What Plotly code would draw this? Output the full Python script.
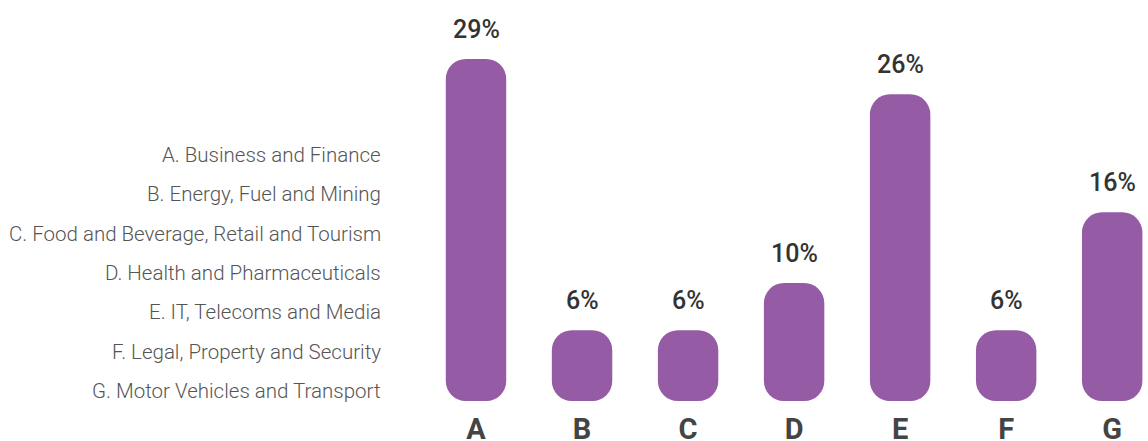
import plotly.graph_objects as go

# Sector shares (%)
letters = ["A", "B", "C", "D", "E", "F", "G"]
sectors = [
    "A. Business and Finance",
    "B. Energy, Fuel and Mining",
    "C. Food and Beverage, Retail and Tourism",
    "D. Health and Pharmaceuticals",
    "E. IT, Telecoms and Media",
    "F. Legal, Property and Security",
    "G. Motor Vehicles and Transport",
]
shares = [29, 6, 6, 10, 26, 6, 16]
share_labels = ["29%", "6%", "6%", "10%", "26%", "6%", "16%"]

BAR = "#955ba5"
TEXT = "#333333"
W, H = 1148, 441
L, R, T, B = 423, 4, 0, 40
BAR_W = 0.57

fig = go.Figure()

# Rounded bars with an explicit base
fig.add_trace(go.Bar(
    x=letters,
    y=shares,
    base=[0] * len(shares),
    width=BAR_W,
    marker=dict(color=BAR, line=dict(width=0), cornerradius=20),
    hoverinfo="skip",
))

# Value labels above the bars
for x, v, t in zip(letters, shares, share_labels):
    fig.add_annotation(
        x=x, y=v, text=t, showarrow=False, yanchor="bottom", yshift=13,
        font=dict(family="Roboto", size=25, color=TEXT, weight=500),
    )

# Category key on the left
plot_w = W - L - R
plot_h = H - T - B
for i, s in enumerate(sectors):
    fig.add_annotation(
        xref="paper", yref="paper",
        x=(383 - L) / plot_w, y=(H - B - 155 - i * 39.3) / plot_h,
        text=s, showarrow=False, xanchor="right", yanchor="middle",
        font=dict(family="Roboto", size=20.5, color="#555555", weight=300),
    )

fig.update_layout(
    width=W, height=H,
    margin=dict(l=L, r=R, t=T, b=B, pad=0, autoexpand=False),
    paper_bgcolor="white", plot_bgcolor="white",
    barmode="overlay",
    showlegend=False,
    xaxis=dict(
        range=[-0.5, 6.3], showgrid=False, zeroline=False, showline=False,
        ticks="", ticklabelstandoff=8, automargin=False,
        tickfont=dict(family="Roboto", size=29, color="#444444", weight=700),
        fixedrange=True,
    ),
    yaxis=dict(range=[0, 34], visible=False, fixedrange=True, automargin=False),
)

fig.write_html("out.html")
